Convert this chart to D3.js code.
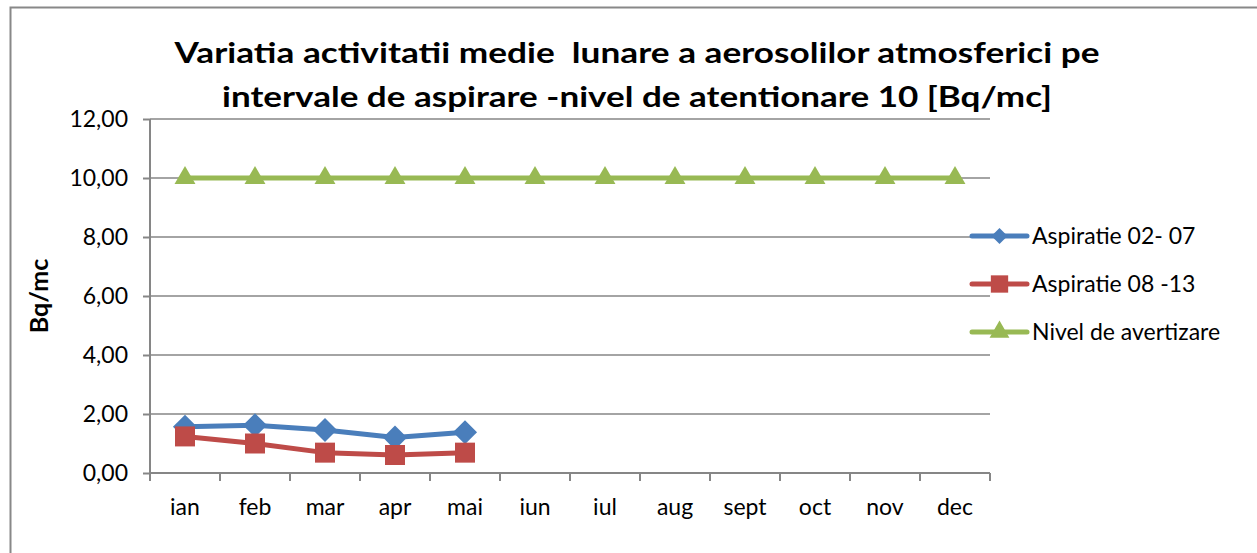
<!DOCTYPE html>
<html>
<head>
<meta charset="utf-8">
<script src="https://cdn.jsdelivr.net/npm/d3@7"></script>
<style>
  body { margin: 0; background: #fff; }
  text { font-family: Lato, "Open Sans", sans-serif; fill: #000; }
</style>
</head>
<body>
<script>
var months = ["ian","feb","mar","apr","mai","iun","iul","aug","sept","oct","nov","dec"];
var asp0207 = [1.57, 1.62, 1.46, 1.20, 1.38];
var asp0813 = [1.24, 1.00, 0.69, 0.61, 0.69];
var nivel = [10,10,10,10,10,10,10,10,10,10,10,10];
var yTicks = [0,2,4,6,8,10,12];
var seriesNames = ["Aspiratie 02- 07", "Aspiratie 08 -13", "Nivel de avertizare"];

var width = 1257, height = 553;
var colors = ["#4A7EBB", "#BE4B48", "#98B954"];
var shapes = [d3.symbolSquare, d3.symbolSquare, d3.symbolTriangle];
var rotate = [45, 0, 0];
var sizes = [290, 400, 190];
var legendSizes = [130, 300, 170];

var svg = d3.select("body").append("svg")
            .attr("width", width)
            .attr("height", height);

// outer chart border
svg.append("rect")
   .attr("x", 10.5).attr("y", 7.5)
   .attr("width", 1260).attr("height", 560)
   .attr("fill", "#fff")
   .attr("stroke", "#888").attr("stroke-width", 2);

var x = d3.scaleBand().domain(months).range([150, 990]);
var y = d3.scaleLinear().domain([0, 12]).range([473, 119]);

// gridlines
svg.append("g").selectAll("line")
   .data(yTicks.filter(function(d){ return d > 0; }))
   .enter().append("line")
   .attr("x1", 150).attr("x2", 990)
   .attr("y1", function(d){ return y(d); })
   .attr("y2", function(d){ return y(d); })
   .attr("stroke", "#868686").attr("stroke-width", 1.5);

// y axis
var yAxis = d3.axisLeft(y)
              .tickValues(yTicks)
              .tickSize(7)
              .tickPadding(15)
              .tickFormat(function(d){ return d3.format(".2f")(d).replace(".", ","); });
var gy = svg.append("g").attr("transform", "translate(150,0)").call(yAxis);
gy.selectAll("path, line").attr("stroke", "#868686").attr("stroke-width", 2);
gy.select(".domain").attr("d", "M0,119V473");
gy.selectAll("text").attr("font-size", 23).attr("font-family", "Lato").attr("fill", "#000");

// x axis with ticks between categories
var gx = svg.append("g").attr("transform", "translate(0,473)");
gx.append("line").attr("x1", 150).attr("x2", 990)
  .attr("stroke", "#868686").attr("stroke-width", 2);
gx.selectAll(".tk").data(d3.range(13)).enter().append("line")
  .attr("x1", function(i){ return 150 + i * x.step(); })
  .attr("x2", function(i){ return 150 + i * x.step(); })
  .attr("y1", 0).attr("y2", 8)
  .attr("stroke", "#868686").attr("stroke-width", 2);
gx.selectAll(".lbl").data(months).enter().append("text")
  .attr("x", function(d){ return x(d) + x.bandwidth() / 2; })
  .attr("y", 42)
  .attr("text-anchor", "middle")
  .attr("font-size", 23)
  .text(function(d){ return d; });

// y axis title
svg.append("text")
   .attr("transform", "translate(48,296) rotate(-90)")
   .attr("text-anchor", "middle")
   .attr("font-size", 25).attr("font-weight", "bold")
   .text("Bq/mc");

// title (keeps the double space of the original)
svg.append("text").attr("x", 637).attr("y", 63)
   .attr("text-anchor", "middle").attr("font-size", 28).attr("font-weight", "bold")
   .style("white-space", "pre")
   .attr("textLength", 925).attr("lengthAdjust", "spacingAndGlyphs")
   .text("Variatia activitatii medie  lunare a aerosolilor atmosferici pe");
svg.append("text").attr("x", 637).attr("y", 107)
   .attr("text-anchor", "middle").attr("font-size", 28).attr("font-weight", "bold")
   .attr("textLength", 830).attr("lengthAdjust", "spacingAndGlyphs")
   .text("intervale de aspirare -nivel de atentionare 10 [Bq/mc]");

// series
var allSeries = [asp0207, asp0813, nivel];
var line = d3.line()
             .x(function(d, i){ return x(months[i]) + x.bandwidth() / 2; })
             .y(function(d){ return y(d); });

[2, 0, 1].forEach(function(s){
  var data = allSeries[s];
  svg.append("path").datum(data)
     .attr("d", line)
     .attr("fill", "none")
     .attr("stroke", colors[s])
     .attr("stroke-width", 5)
     .attr("stroke-linejoin", "round");
  svg.append("g").selectAll("path")
     .data(data).enter().append("path")
     .attr("d", d3.symbol().type(shapes[s]).size(sizes[s]))
     .attr("transform", function(d, i){
       return "translate(" + (x(months[i]) + x.bandwidth() / 2) + "," + y(d) + ") rotate(" + rotate[s] + ")";
     })
     .attr("fill", colors[s]);
});

// legend
var legend = svg.append("g");
seriesNames.forEach(function(name, i){
  var ly = 236 + i * 48;
  legend.append("line").attr("x1", 972).attr("x2", 1027)
        .attr("y1", ly).attr("y2", ly)
        .attr("stroke", colors[i]).attr("stroke-width", 5)
        .attr("stroke-linecap", "round");
  legend.append("path")
        .attr("d", d3.symbol().type(shapes[i]).size(legendSizes[i]))
        .attr("transform", "translate(999.5," + ly + ") rotate(" + rotate[i] + ")")
        .attr("fill", colors[i]);
  legend.append("text").attr("x", 1032).attr("y", ly + 8)
        .attr("font-size", 23)
        .text(name);
});
</script>
</body>
</html>
